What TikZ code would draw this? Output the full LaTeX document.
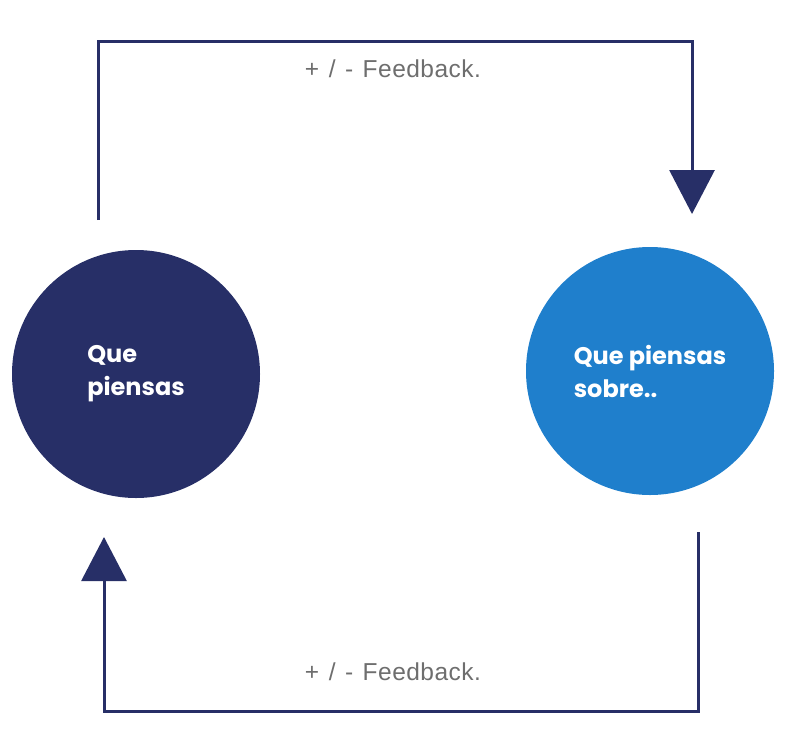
\documentclass[tikz,border=0pt]{standalone}
\usepackage{fontspec}
\setmainfont{Poppins}
\newfontfamily\labelfont[LetterSpace=2,WordSpace=1.3]{Liberation Sans}
\usetikzlibrary{arrows.meta}
\definecolor{navy}{HTML}{272F67}
\definecolor{skyblue}{HTML}{1F7FCC}
\definecolor{labelgray}{HTML}{6E6E6E}
\tikzset{
  bubble/.style={circle, minimum size=248pt, inner sep=0pt, text=white,
    align=left, font=\fontsize{24}{33}\selectfont\bfseries},
  loopline/.style={draw=navy, line width=3pt, -{Triangle[width=45pt,length=44pt]}},
  fblabel/.style={anchor=base, text=labelgray, font=\labelfont\fontsize{24.5}{29}\selectfont}
}
\begin{document}
\begin{tikzpicture}[x=1pt,y=-1pt]
  \useasboundingbox (0,0) rectangle (800,747);
  % the two circles
  \node[bubble, fill=navy] (me) at (136,374) {Que\\piensas};
  \node[bubble, fill=skyblue] (them) at (650,371) {Que piensas\\sobre..};
  % feedback loop ends
  \coordinate (topstart) at (98,220);
  \coordinate (toptip) at (692,214);
  \coordinate (botstart) at (698,532);
  \coordinate (bottip) at (104,537);
  % upper feedback path
  \draw[loopline] (topstart) -- (98,41) -- (692,41) -- (toptip);
  % lower feedback path
  \draw[loopline] (botstart) -- (698,711) -- (104,711) -- (bottip);
  % labels
  \node[fblabel] (toplabel) at (393,77) {+ / - Feedback.};
  \node[fblabel] (botlabel) at (393,680) {+ / - Feedback.};
\end{tikzpicture}
\end{document}
